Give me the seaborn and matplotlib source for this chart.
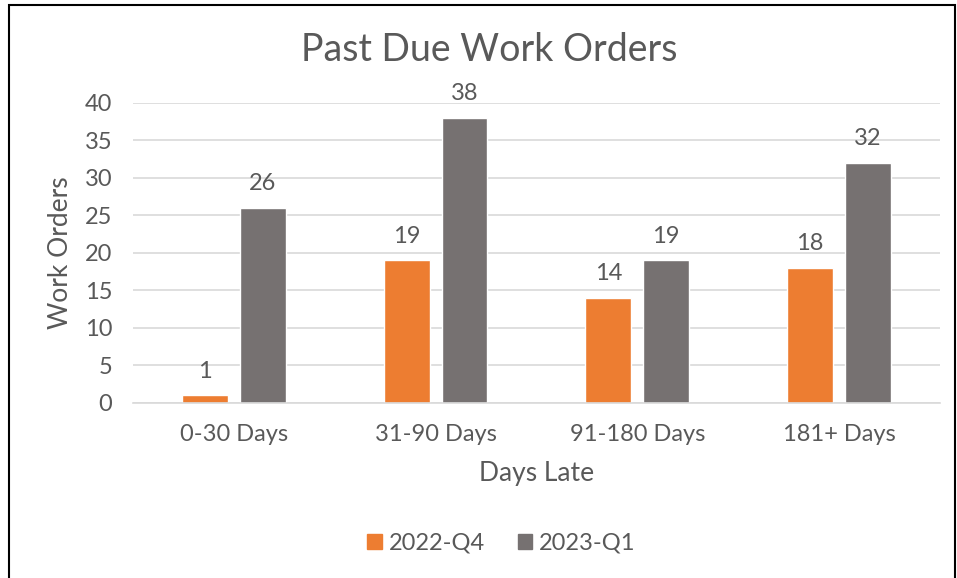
import matplotlib
matplotlib.use("Agg")
import matplotlib.pyplot as plt
import matplotlib.patches as mpatches
import seaborn as sns
import pandas as pd

categories = ["0-30 Days", "31-90 Days", "91-180 Days", "181+ Days"]
series_names = ["2022-Q4", "2023-Q1"]
q4_2022 = [1, 19, 14, 18]
q1_2023 = [26, 38, 19, 32]
y_ticks = [0, 5, 10, 15, 20, 25, 30, 35, 40]

colors = {"2022-Q4": "#ED7D31", "2023-Q1": "#767171"}
text_color = "#595959"

df = pd.DataFrame({
    "Days Late": categories * 2,
    "Series": [series_names[0]] * 4 + [series_names[1]] * 4,
    "Work Orders": q4_2022 + q1_2023,
})

sns.set_theme(style="white")
plt.rcParams["font.family"] = ["Lato", "DejaVu Sans"]

fig = plt.figure(figsize=(9.57, 5.78), dpi=100)
ax = fig.add_axes([0.139, 0.3028, 0.843, 0.519])

sns.barplot(data=df, x="Days Late", y="Work Orders", hue="Series",
            palette=colors, width=0.574, gap=0.206, ax=ax,
            legend=False, saturation=1, errorbar=None)

ax.set_xlim(-0.5, 3.5)
ax.set_ylim(0, 40)
ax.set_yticks(y_ticks)
ax.yaxis.grid(True, color="#D9D9D9", linewidth=1.2)
ax.set_axisbelow(True)
for s in ["top", "right", "left"]:
    ax.spines[s].set_visible(False)
ax.spines["bottom"].set_color("#D9D9D9")
ax.spines["bottom"].set_linewidth(1.2)
ax.tick_params(axis="both", length=0, labelsize=17, colors=text_color)
ax.tick_params(axis="x", pad=15)
ax.tick_params(axis="y", pad=15)

ax.set_xlabel("Days Late", fontsize=19, color=text_color, labelpad=12)
ax.set_ylabel("Work Orders", fontsize=19, color=text_color, labelpad=8)

for cont in ax.containers:
    ax.bar_label(cont, fmt="%d", fontsize=17, color=text_color, padding=10)

fig.text(0.511, 0.913, "Past Due Work Orders", ha="center", va="center",
         fontsize=27, color=text_color)

handles = [mpatches.Patch(color=colors[n], label=n) for n in series_names]
fig.legend(handles=handles, loc="center", bbox_to_anchor=(0.524, 0.06),
           ncol=2, frameon=False, fontsize=17, handlelength=0.6,
           handleheight=0.6, handletextpad=0.3, columnspacing=1.4,
           labelcolor=text_color)

# chart frame
fig.add_artist(mpatches.Rectangle((0.0095, -0.01), 0.988, 1.001,
                                  transform=fig.transFigure, fill=False,
                                  edgecolor="black", linewidth=1.5))

fig.savefig("out.png", dpi=100)
